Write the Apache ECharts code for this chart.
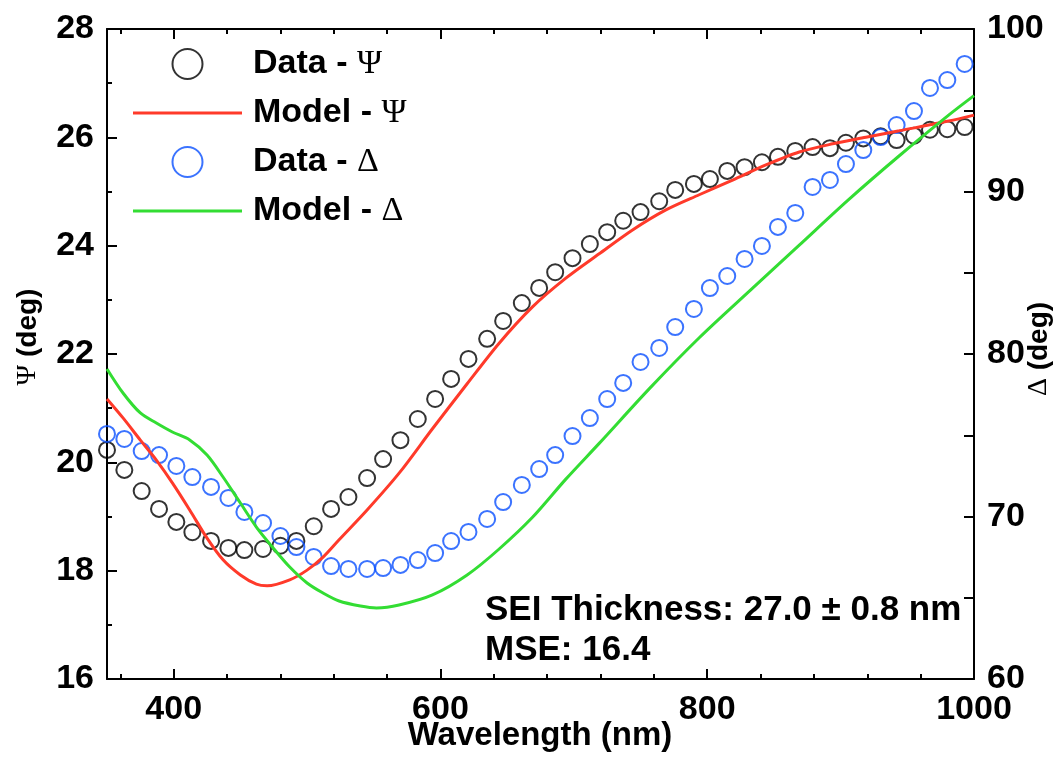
<!DOCTYPE html>
<html>
<head>
<meta charset="utf-8">
<script src="https://cdn.jsdelivr.net/npm/echarts@6/dist/echarts.min.js"></script>
<style>
  html, body { margin: 0; padding: 0; background: #fff; }
  #chart { width: 1058px; height: 768px; }
</style>
</head>
<body>
<div id="chart"></div>
<script>
// Measured ellipsometry spectra (wavelength in nm)
const dataWavelengths = [350,363,376,389,402,414,428,441,453,467,480,492,505,518,531,545,557,570,583,596,608,621,635,647,661,674,686,699,712,725,737,750,764,776,790,802,815,828,841,853,866,879,892,904,917,930,942,955,967,980,993];
const dataPsi = [20.23,19.86,19.47,19.14,18.90,18.71,18.55,18.42,18.38,18.40,18.46,18.55,18.82,19.14,19.36,19.71,20.06,20.41,20.80,21.17,21.54,21.91,22.28,22.61,22.94,23.22,23.51,23.77,24.03,24.25,24.46,24.62,24.82,25.03,25.14,25.23,25.38,25.45,25.54,25.64,25.75,25.82,25.80,25.90,25.98,26.02,25.95,26.03,26.14,26.15,26.19];
const dataDelta = [75.08,74.77,74.03,73.78,73.11,72.43,71.82,71.14,70.28,69.60,68.80,68.12,67.51,66.95,66.77,66.77,66.83,67.02,67.32,67.75,68.49,69.05,69.85,70.89,71.94,72.92,73.78,74.95,76.06,77.23,78.22,79.51,80.37,81.66,82.77,84.06,84.80,85.85,86.65,87.82,88.68,90.28,90.71,91.69,92.55,93.35,94.09,94.95,96.37,96.86,97.85];

// Fitted model curves
const modelPsiWavelengths = [350,362,375,387,399,412,425,437,450,462,470,487,500,512,524,545,569,594,620,644,669,694,719,744,769,794,819,844,869,894,919,944,981,1000];
const modelPsi = [21.17,20.82,20.41,20.04,19.62,19.12,18.60,18.20,17.92,17.75,17.72,17.83,18.01,18.25,18.57,19.12,19.80,20.62,21.45,22.20,22.87,23.40,23.85,24.29,24.66,24.94,25.21,25.49,25.73,25.88,26.00,26.12,26.30,26.41];
const modelDeltaWavelengths = [350,362,375,387,399,412,425,437,450,462,474,487,500,512,524,540,552,569,594,620,644,669,694,719,757,794,832,869,906,944,981,1000];
const modelDelta = [79.08,77.60,76.37,75.75,75.20,74.71,73.78,72.43,70.83,69.35,68.12,66.89,65.91,65.29,64.80,64.49,64.37,64.55,65.17,66.40,68.00,69.95,72.30,74.50,77.90,81.00,83.90,86.70,89.50,92.20,94.70,95.90];

// Axis ticks
const xMajorTicks = [400, 600, 800, 1000];
const xMinorTicks = [360, 440, 480, 520, 560, 640, 680, 720, 760, 840, 880, 920, 960];

const seriesNames = ['Data - Ψ', 'Model - Ψ', 'Data - Δ', 'Model - Δ'];
const seriesColors = ['#000000', '#ff3a2a', '#0a50ff', '#33dd33'];

const SANS = '"Liberation Sans", Arial, Helvetica, sans-serif';
const SERIF = '"Liberation Serif", "DejaVu Serif", serif';
// thin bar used as the legend swatch of the model lines (stroked 2px, so ~3px total)
const LINE_ICON = 'path://M0,0H107V1H0Z';

const zip = (xs, ys) => xs.map((x, i) => [x, ys[i]]);
const greek = s => s.replace(/([ΨΔ])/g, '{g|$1}');

const chart = echarts.init(document.getElementById('chart'), null, { renderer: 'canvas' });

const axisLine = { show: true, onZero: false, lineStyle: { color: '#000', width: 2 } };
const tickLabel = { color: '#000', fontSize: 34, fontWeight: 'bold', fontFamily: SANS, formatter: v => String(v) };

function xAxisDef(position, ticks, len, showLabels, showLine) {
  return {
    type: 'value', min: 350, max: 1000, position: position,
    axisLine: Object.assign({}, axisLine, { show: showLine }),
    axisTick: { show: true, inside: true, length: len, customValues: ticks, lineStyle: { color: '#000', width: 2 } },
    axisLabel: showLabels ? Object.assign({ customValues: ticks, margin: 14 }, tickLabel) : { show: false },
    splitLine: { show: false }
  };
}

const option = {
  animation: false,
  backgroundColor: '#fff',
  grid: { left: 107, right: 84, top: 29, bottom: 89, containLabel: false, outerBoundsMode: 'none' },
  xAxis: [
    xAxisDef('bottom', xMajorTicks, 10, true, true),
    xAxisDef('bottom', xMinorTicks, 5, false, false),
    xAxisDef('top', xMajorTicks, 10, false, true),
    xAxisDef('top', xMinorTicks, 5, false, false)
  ],
  yAxis: [
    {
      type: 'value', min: 16, max: 28, interval: 2, position: 'left',
      axisLine: axisLine,
      axisTick: { inside: true, length: 10, lineStyle: { color: '#000', width: 2 } },
      minorTick: { show: true, splitNumber: 2, length: 5, lineStyle: { color: '#000', width: 2 } },
      axisLabel: Object.assign({ margin: 13 }, tickLabel),
      splitLine: { show: false }, minorSplitLine: { show: false }
    },
    {
      type: 'value', min: 60, max: 100, interval: 10, position: 'right',
      axisLine: axisLine,
      axisTick: { inside: true, length: 10, lineStyle: { color: '#000', width: 2 } },
      minorTick: { show: true, splitNumber: 2, length: 10, lineStyle: { color: '#000', width: 2 } },
      axisLabel: Object.assign({ margin: 13 }, tickLabel),
      splitLine: { show: false }, minorSplitLine: { show: false }
    }
  ],
  legend: {
    orient: 'vertical', left: 133, top: 47, padding: 0,
    itemWidth: 107, itemHeight: 30, itemGap: 15,
    selectedMode: false,
    itemStyle: { borderWidth: 2 },
    data: [
      { name: seriesNames[0] },
      { name: seriesNames[1], icon: LINE_ICON },
      { name: seriesNames[2] },
      { name: seriesNames[3], icon: LINE_ICON }
    ],
    formatter: name => greek(name),
    textStyle: {
      color: '#000', fontSize: 34, fontWeight: 'bold', fontFamily: SANS, lineHeight: 30,
      padding: [0, 0, 0, 7],
      rich: { g: { fontFamily: SERIF, fontWeight: 'normal', fontSize: 34, lineHeight: 30, color: '#000' } }
    }
  },
  series: [
    {
      name: seriesNames[0], type: 'scatter', xAxisIndex: 0, yAxisIndex: 0,
      data: zip(dataWavelengths, dataPsi),
      symbol: 'circle', symbolSize: 16,
      itemStyle: { color: 'transparent', borderColor: seriesColors[0], borderWidth: 2 },
      emphasis: { disabled: true }, silent: true
    },
    {
      name: seriesNames[1], type: 'line', xAxisIndex: 0, yAxisIndex: 0,
      data: zip(modelPsiWavelengths, modelPsi),
      smooth: 0.3, symbol: 'none', showSymbol: false,
      lineStyle: { color: seriesColors[1], width: 3 },
      itemStyle: { color: seriesColors[1], borderColor: seriesColors[1] },
      emphasis: { disabled: true }, silent: true
    },
    {
      name: seriesNames[2], type: 'scatter', xAxisIndex: 0, yAxisIndex: 1,
      data: zip(dataWavelengths, dataDelta),
      symbol: 'circle', symbolSize: 16,
      itemStyle: { color: 'transparent', borderColor: seriesColors[2], borderWidth: 2 },
      emphasis: { disabled: true }, silent: true
    },
    {
      name: seriesNames[3], type: 'line', xAxisIndex: 0, yAxisIndex: 1,
      data: zip(modelDeltaWavelengths, modelDelta),
      smooth: 0.3, symbol: 'none', showSymbol: false,
      lineStyle: { color: seriesColors[3], width: 3 },
      itemStyle: { color: seriesColors[3], borderColor: seriesColors[3] },
      emphasis: { disabled: true }, silent: true
    }
  ],
  graphic: [
    {
      type: 'text', x: 28, y: 337, rotation: Math.PI / 2, silent: true,
      style: {
        text: '{g|Ψ} (deg)', align: 'center', verticalAlign: 'middle',
        fill: '#000', font: 'bold 28px ' + SANS,
        rich: { g: { fontFamily: SERIF, fontWeight: 'normal', fontSize: 28 } }
      }
    },
    {
      type: 'text', x: 1039, y: 349, rotation: Math.PI / 2, silent: true,
      style: {
        text: '{g|Δ} (deg)', align: 'center', verticalAlign: 'middle',
        fill: '#000', font: 'bold 28px ' + SANS,
        rich: { g: { fontFamily: SERIF, fontWeight: 'normal', fontSize: 28 } }
      }
    },
    {
      type: 'text', x: 540, y: 736, silent: true,
      style: { text: 'Wavelength (nm)', align: 'center', verticalAlign: 'middle', fill: '#000', font: 'bold 33px ' + SANS }
    },
    {
      type: 'text', x: 485, y: 610, silent: true,
      style: { text: 'SEI Thickness: 27.0 ± 0.8 nm', align: 'left', verticalAlign: 'middle', fill: '#000', font: 'bold 35px ' + SANS }
    },
    {
      type: 'text', x: 485, y: 650, silent: true,
      style: { text: 'MSE: 16.4', align: 'left', verticalAlign: 'middle', fill: '#000', font: 'bold 35px ' + SANS }
    }
  ]
};

chart.setOption(option);
</script>
</body>
</html>
